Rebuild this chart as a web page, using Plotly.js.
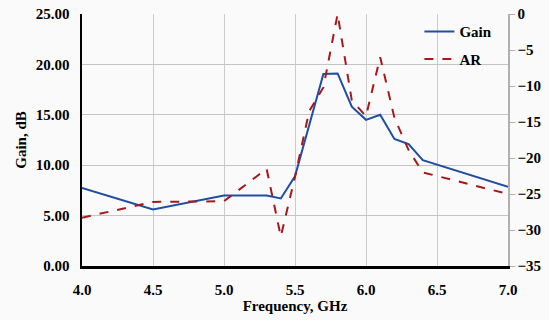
<!DOCTYPE html>
<html>
<head>
<meta charset="utf-8">
<script src="https://cdn.plot.ly/plotly-3.0.1.min.js"></script>
<style>html,body{margin:0;padding:0;background:#fafafa;}#chart{width:549px;height:320px;}</style>
</head>
<body>
<div id="chart"></div>
<script>
const gainFreq = [4.0, 4.5, 5.0, 5.3, 5.4, 5.5, 5.7, 5.8, 5.9, 6.0, 6.1, 6.2, 6.3, 6.4, 7.0];
const gainValues = [7.75, 5.6, 7.0, 7.0, 6.7, 8.9, 19.05, 19.1, 15.8, 14.5, 15.0, 12.6, 12.1, 10.5, 7.85];
const arFreq = [4.0, 4.5, 5.0, 5.3, 5.4, 5.5, 5.6, 5.7, 5.8, 5.9, 6.0, 6.1, 6.2, 6.3, 6.4, 7.0];
const arValues = [-28.3, -26.1, -26.0, -21.5, -30.9, -22.6, -13.5, -10.2, 0, -12.0, -14.2, -6.0, -14.4, -18.9, -22.0, -25.0];
const xTicks = [4.0, 4.5, 5.0, 5.5, 6.0, 6.5, 7.0];

const font = {family: '"Liberation Serif", "Times New Roman", serif', size: 15, color: '#000', weight: 'bold'};

const traces = [
  {x: gainFreq, y: gainValues, name: 'Gain', type: 'scatter', mode: 'lines',
   line: {color: '#1f4ea3', width: 2}, yaxis: 'y', legendgroup: 'g'},
  {x: arFreq, y: arValues, name: 'AR', type: 'scatter', mode: 'lines',
   line: {color: '#a5191c', width: 2, dash: 'dash'}, yaxis: 'y2', legendgroup: 'a'}
];

const layout = {
  width: 549, height: 320,
  margin: {l: 82, r: 41, t: 14, b: 54},
  paper_bgcolor: '#fafafa', plot_bgcolor: '#fafafa',
  font: font,
  showlegend: true,
  legend: {x: 0.792, y: 0.995, xanchor: 'left', yanchor: 'top', bgcolor: 'rgba(0,0,0,0)',
           font: font, traceorder: 'grouped', tracegroupgap: 5},
  xaxis: {range: [4, 7], tickvals: xTicks, tickformat: '.1f', showgrid: true, gridcolor: '#cccccc',
          showline: true, linecolor: '#000', linewidth: 2.5, zeroline: false, ticks: '',
          ticklabelstandoff: 8, tickfont: font,
          title: {text: 'Frequency, GHz', font: font, standoff: 0}},
  yaxis: {range: [0, 25], dtick: 5, tickformat: '.2f', showgrid: true, gridcolor: '#c4c4c4',
          showline: true, linecolor: '#000', linewidth: 2.5, zeroline: false, ticks: '',
          ticklabelstandoff: 7, tickfont: font,
          title: {text: 'Gain, dB', font: font, standoff: 6}},
  yaxis2: {range: [-35, 0], dtick: 5, overlaying: 'y', side: 'right', showgrid: false,
           showline: true, linecolor: '#b0b0b0', linewidth: 1.5, zeroline: false,
           ticks: 'outside', ticklen: 5, tickcolor: '#b0b0b0', tickfont: font}
};

Plotly.newPlot('chart', traces, layout, {displayModeBar: false, staticPlot: true});
</script>
</body>
</html>
